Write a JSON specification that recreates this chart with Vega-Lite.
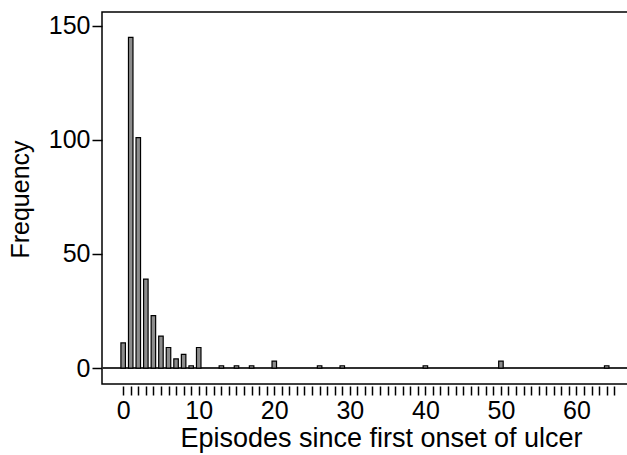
{
  "$schema": "https://vega.github.io/schema/vega-lite/v6.json",
  "width": 532,
  "height": 372,
  "autosize": "none",
  "padding": {"left": 102, "top": 12, "right": 0, "bottom": 71},
  "background": "white",
  "config": {
    "font": "Liberation Sans",
    "view": {"stroke": "black", "strokeWidth": 1.5},
    "axis": {"grid": false, "domain": false, "tickColor": "black", "labelColor": "black", "titleColor": "black", "titleFontWeight": "normal"}
  },
  "data": {
    "values": [
      {"episodes": 0, "frequency": 11},
      {"episodes": 1, "frequency": 145},
      {"episodes": 2, "frequency": 101},
      {"episodes": 3, "frequency": 39},
      {"episodes": 4, "frequency": 23},
      {"episodes": 5, "frequency": 14},
      {"episodes": 6, "frequency": 9},
      {"episodes": 7, "frequency": 4},
      {"episodes": 8, "frequency": 6},
      {"episodes": 9, "frequency": 1},
      {"episodes": 10, "frequency": 9},
      {"episodes": 13, "frequency": 1},
      {"episodes": 15, "frequency": 1},
      {"episodes": 17, "frequency": 1},
      {"episodes": 20, "frequency": 3},
      {"episodes": 26, "frequency": 1},
      {"episodes": 29, "frequency": 1},
      {"episodes": 40, "frequency": 1},
      {"episodes": 50, "frequency": 3},
      {"episodes": 64, "frequency": 1}
    ]
  },
  "layer": [
    {
      "mark": {"type": "rule", "color": "#303030", "strokeWidth": 1.5},
      "encoding": {
        "y": {"datum": 0, "type": "quantitative", "scale": {"domain": [-7, 156.1], "nice": false, "zero": false}}
      }
    },
    {
      "mark": {"type": "bar", "width": 4.5, "fill": "#8c8c8c", "stroke": "black", "strokeWidth": 1.2},
      "encoding": {
        "x": {
          "field": "episodes",
          "type": "quantitative",
          "scale": {"domain": [-2.14, 66.95], "nice": false, "zero": false},
          "axis": {
            "values": [0,1,2,3,4,5,6,7,8,9,10,11,12,13,14,15,16,17,18,19,20,21,22,23,24,25,26,27,28,29,30,31,32,33,34,35,36,37,38,39,40,41,42,43,44,45,46,47,48,49,50,51,52,53,54,55,56,57,58,59,60,61,62,63,64,65],
            "labelExpr": "datum.value % 10 === 0 ? datum.label : ''",
            "labelOverlap": false,
            "offset": 2,
            "tickSize": 9,
            "tickWidth": 1.5,
            "labelFontSize": 25,
            "labelPadding": 3,
            "title": "Episodes since first onset of ulcer",
            "titleFontSize": 27,
            "titleX": 279,
            "titleY": 60,
            "titleAlign": "center",
            "titleBaseline": "alphabetic"
          }
        },
        "y": {
          "field": "frequency",
          "type": "quantitative",
          "scale": {"domain": [-7, 156.1], "nice": false, "zero": false},
          "axis": {
            "values": [0, 50, 100, 150],
            "tickSize": 10,
            "tickWidth": 1.5,
            "labelFontSize": 25,
            "labelPadding": 2,
            "title": "Frequency",
            "titleFontSize": 25,
            "titleX": -74,
            "titleY": 187,
            "titleAngle": -90,
            "titleAlign": "center",
            "titleBaseline": "alphabetic"
          }
        },
        "y2": {"datum": 0}
      }
    }
  ]
}
